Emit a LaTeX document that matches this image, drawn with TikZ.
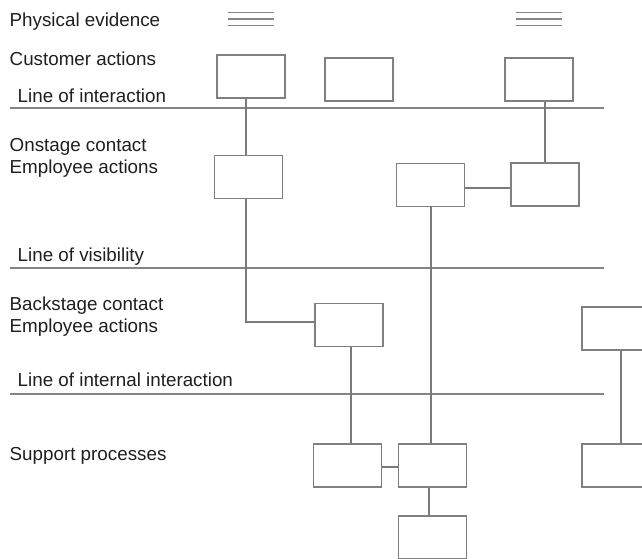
\documentclass[tikz,border=0pt]{standalone}
\usepackage{fontspec}
\setmainfont{Liberation Sans}

\tikzset{
  act/.style={draw=black!50, line width=1.2pt, minimum width=68pt, minimum height=43pt, inner sep=0pt},
  link/.style={draw=black!52, line width=1.2pt},
  lane/.style={draw=black!48, line width=1.3pt},
  lbl/.style={anchor=base west, inner sep=0pt, text=black!88, align=left,
    font=\fontsize{18.8}{21.5}\selectfont},
}

\begin{document}
\begin{tikzpicture}[x=1pt, y=-1pt]
\def\W{642}
\def\H{558}
\def\xl{10}
\def\xr{604}

\useasboundingbox (0,0) rectangle (\W,\H);
\clip (0,0) rectangle (\W,\H);

% row labels
\node[lbl] (pe) at (9.5,26.5) {Physical evidence};
\node[lbl] (ca) at (9.5,65.5) {Customer actions};
\node[lbl] (li) at (17.5,102) {Line of interaction};
\node[lbl] (oc) at (9.5,173) {Onstage contact\\Employee actions};
\node[lbl] (lv) at (17.5,261) {Line of visibility};
\node[lbl] (bc) at (9.5,332) {Backstage contact\\Employee actions};
\node[lbl] (lii) at (17.5,386) {Line of internal interaction};
\node[lbl] (sp) at (9.5,460) {Support processes};

% separating lines
\draw[lane] (\xl,108) -- (\xr,108);
\draw[lane] (\xl,268) -- (\xr,268);
\draw[lane] (\xl,394) -- (\xr,394);

% physical evidence marks
\foreach \cx in {251,539}
  \foreach \ly in {12.3,19,25.7}
    \draw[lane, line width=1.1pt] (\cx-23,\ly) -- (\cx+23,\ly);

% boxes
\node[act] (ca1) at (251,76.5) {};
\node[act] (ca2) at (359,79.5) {};
\node[act] (ca3) at (539,79.5) {};

\node[act] (on1) at (248.5,177) {};
\node[act] (on2) at (430.5,185) {};
\node[act] (on3) at (545,184.5) {};

\node[act] (bs1) at (349,325) {};
\node[act] (bs2) at (616,328.5) {};

\node[act] (sp1) at (347.5,465.5) {};
\node[act] (sp2) at (432.5,465.5) {};
\node[act] (sp3) at (432.5,537.5) {};
\node[act] (sp4) at (616,465.5) {};

% connectors
\draw[link] ([xshift=-5pt]ca1.south) -- ([xshift=-5pt]ca1.south |- on1.north);
\draw[link] ([xshift=-2.5pt]on1.south) |- ([yshift=3pt]bs1.west);
\draw[link] (on3.north) -- (on3.north |- ca3.south);
\draw[link] ([yshift=-3pt]on2.east) -- ([yshift=-3pt]on2.east -| on3.west);
\draw[link] ([xshift=0.5pt]on2.south) -- ([xshift=0.5pt]on2.south |- sp2.north);
\draw[link] ([xshift=2pt]bs1.south) -- ([xshift=2pt]bs1.south |- sp1.north);
\draw[link] ([yshift=-1.5pt]sp1.east) -- ([yshift=-1.5pt]sp1.east -| sp2.west);
\draw[link] ([xshift=-3.5pt]sp2.south) -- ([xshift=-3.5pt]sp2.south |- sp3.north);
\draw[link] ([xshift=5pt]bs2.south) -- ([xshift=5pt]bs2.south |- sp4.north);

\end{tikzpicture}
\end{document}
